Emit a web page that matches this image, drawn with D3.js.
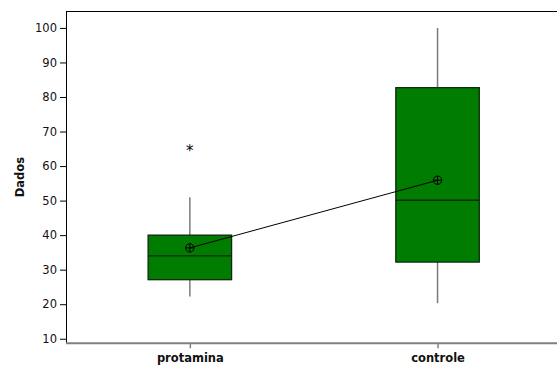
<!DOCTYPE html>
<html>
<head>
<meta charset="utf-8">
<script src="https://cdn.jsdelivr.net/npm/d3@7"></script>
<style>
  html, body { margin: 0; padding: 0; background: #fff; }
  svg { display: block; }
  text { font-family: "DejaVu Sans", Verdana, sans-serif; }
</style>
</head>
<body>
<svg id="chart" width="557" height="365"></svg>
<script>
// Groups and their five-number summaries
const categories = ["protamina", "controle"];
const whiskerLow = [22.2, 20.3];
const q1 = [27.1, 32.2];
const median = [34.0, 50.1];
const q3 = [40.0, 82.7];
const whiskerHigh = [51.0, 100.0];
const means = [36.3, 55.9];
const outliers = [{ group: "protamina", value: 64.9 }];
const yTicks = [10, 20, 30, 40, 50, 60, 70, 80, 90, 100];
const yLabel = "Dados";

const svg = d3.select("#chart");
const plotLeft = 66, plotRight = 561.4, plotTop = 11, plotBottom = 343.3;

const x = d3.scalePoint().domain(categories).range([plotLeft, plotRight]).padding(0.5);
const y = d3.scaleLinear().domain([8.68, 104.9]).range([plotBottom, plotTop]);
const boxW = x.step() * 0.337;

// frame: top border
svg.append("line")
  .attr("x1", plotLeft).attr("x2", 557).attr("y1", plotTop + 0.5).attr("y2", plotTop + 0.5)
  .attr("stroke", "#000").attr("stroke-width", 1);

// y axis
const yAxis = svg.append("g")
  .attr("transform", `translate(${plotLeft},0)`)
  .call(d3.axisLeft(y).tickValues(yTicks).tickSize(6).tickPadding(3));
yAxis.select(".domain").attr("d", `M0.5,${plotTop}V${plotBottom}`).attr("stroke", "#000");
yAxis.selectAll(".tick line").attr("stroke", "#000");
yAxis.selectAll(".tick text").attr("font-size", "11.5px").attr("fill", "#111")
  .style("font-family", "'DejaVu Sans', Verdana, sans-serif");

// x axis
const xAxis = svg.append("g")
  .attr("transform", `translate(0,${plotBottom})`)
  .call(d3.axisBottom(x).tickSize(5).tickPadding(6));
xAxis.select(".domain").attr("d", `M${plotLeft},0H557`).attr("stroke", "#808080").attr("stroke-width", 2);
xAxis.selectAll(".tick line").attr("stroke", "#808080").attr("stroke-width", 1.5);
xAxis.selectAll(".tick text").attr("font-size", "11.5px").attr("font-weight", "bold").attr("fill", "#111")
  .style("font-family", "'DejaVu Sans', Verdana, sans-serif");

// y label
svg.append("text")
  .attr("transform", `translate(24,${(plotTop + plotBottom) / 2}) rotate(-90)`)
  .attr("text-anchor", "middle")
  .attr("font-size", "11.5px").attr("font-weight", "bold").attr("fill", "#111")
  .text(yLabel);

const g = svg.append("g");

categories.forEach((c, i) => {
  const cx = x(c);
  // whiskers
  g.append("line").attr("x1", cx).attr("x2", cx)
    .attr("y1", y(whiskerHigh[i])).attr("y2", y(q3[i]))
    .attr("stroke", "#7a7a7a").attr("stroke-width", 1.5);
  g.append("line").attr("x1", cx).attr("x2", cx)
    .attr("y1", y(q1[i])).attr("y2", y(whiskerLow[i]))
    .attr("stroke", "#7a7a7a").attr("stroke-width", 1.5);
  // box
  g.append("rect")
    .attr("x", cx - boxW / 2).attr("width", boxW)
    .attr("y", y(q3[i])).attr("height", y(q1[i]) - y(q3[i]))
    .attr("fill", "#007c00").attr("stroke", "#0d2a0d").attr("stroke-width", 1.3);
  // median
  g.append("line")
    .attr("x1", cx - boxW / 2).attr("x2", cx + boxW / 2)
    .attr("y1", y(median[i])).attr("y2", y(median[i]))
    .attr("stroke", "#0d2a0d").attr("stroke-width", 1.3);
});

// line joining the means
g.append("path")
  .datum(categories.map((c, i) => [x(c), y(means[i])]))
  .attr("d", d3.line())
  .attr("fill", "none").attr("stroke", "#000").attr("stroke-width", 1);

// mean symbols: circle with cross
categories.forEach((c, i) => {
  const cx = x(c), cy = y(means[i]), r = 4.2;
  const s = g.append("g").attr("stroke", "#000").attr("stroke-width", 1).attr("fill", "none");
  s.append("circle").attr("cx", cx).attr("cy", cy).attr("r", r);
  s.append("line").attr("x1", cx - r).attr("x2", cx + r).attr("y1", cy).attr("y2", cy);
  s.append("line").attr("x1", cx).attr("x2", cx).attr("y1", cy - r).attr("y2", cy + r);
});

// outliers
g.selectAll(".outlier").data(outliers).enter().append("text")
  .attr("class", "outlier")
  .attr("x", d => x(d.group)).attr("y", d => y(d.value) + 7)
  .attr("text-anchor", "middle")
  .attr("font-size", "15px").attr("fill", "#000")
  .text("*");
</script>
</body>
</html>
